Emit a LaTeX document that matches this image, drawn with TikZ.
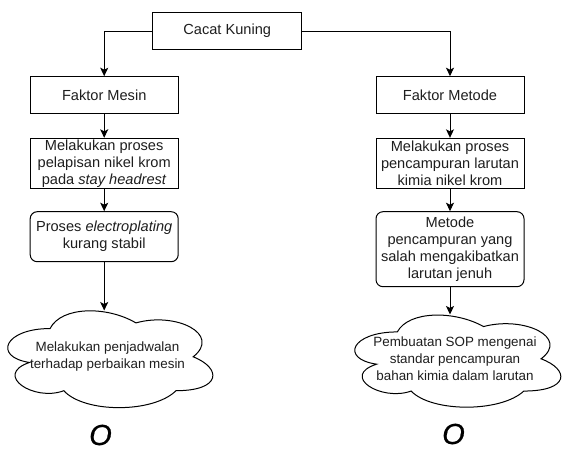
\documentclass[tikz,border=0pt]{standalone}
\usepackage{fontspec}
\setmainfont{Liberation Sans}
\newfontfamily\markfont[FakeBold=0.7]{Liberation Sans}
\usetikzlibrary{arrows.meta}

\definecolor{txt}{RGB}{30,30,30}

\tikzset{
  box/.style={draw=black, line width=1pt, minimum width=148pt, inner sep=0pt,
    align=center, font=\fontsize{14.6}{17}\selectfont, text=txt},
  rbox/.style={box, rounded corners=7pt},
  cloudlbl/.style={inner sep=0pt, align=center,
    font=\fontsize{13.4}{17}\selectfont, text=txt},
  cloudline/.style={draw=black, line width=1pt},
  arr/.style={line width=1pt, -{Stealth[length=8.5pt,width=8pt,inset=2pt]}},
  bigmark/.style={inner sep=0pt, font=\markfont\fontsize{29}{29}\selectfont\itshape}
}

% cloud outline in unit coordinates of its node box
\newcommand{\cloudpath}[1]{%
  \begin{scope}[shift={(#1.north west)}, x=\cloudw, y=-\cloudh]
    \draw[cloudline] (0.25,0.25) .. controls (0.05,0.25) and (0,0.5) .. (0.16,0.55)
      .. controls (0,0.66) and (0.18,0.9) .. (0.31,0.8)
      .. controls (0.4,1) and (0.7,1) .. (0.8,0.8)
      .. controls (1,0.8) and (1,0.6) .. (0.875,0.5)
      .. controls (1,0.3) and (0.8,0.1) .. (0.625,0.2)
      .. controls (0.5,0.05) and (0.3,0.05) .. (0.25,0.25) -- cycle;
  \end{scope}}
\newlength{\cloudw}
\newlength{\cloudh}

\begin{document}
\begin{tikzpicture}[x=1pt, y=-1pt]
  \useasboundingbox (0,0) rectangle (562,450);

  % boxes
  \node[box, minimum width=149pt, minimum height=36.6pt] (top) at (227.2,31) {Cacat Kuning};
  \node[box, minimum height=36.6pt] (fm) at (104.2,95) {Faktor Mesin};
  \node[box, minimum height=36.6pt] (fk) at (450,95) {Faktor Metode};
  \node[box, minimum height=50pt] (m1) at (104.2,163.3)
    {Melakukan proses\\pelapisan nikel krom\\pada \textit{stay headrest}};
  \node[box, minimum height=50pt] (k1) at (450,163.3)
    {Melakukan proses\\pencampuran larutan\\kimia nikel krom};
  \node[rbox, minimum height=50pt] (m2) at (104.2,236.7)
    {Proses \textit{electroplating}\\kurang stabil};
  \node[rbox, minimum height=75pt] (k2) at (450,249.2)
    {Metode\\pencampuran yang\\salah mengakibatkan\\larutan jenuh};

  % clouds
  \node[cloudlbl, minimum width=229pt, minimum height=113pt] (c1) at (107.5,357)
    {Melakukan penjadwalan\\terhadap perbaikan mesin};
  \setlength{\cloudw}{229pt}\setlength{\cloudh}{113pt}
  \cloudpath{c1}

  \node[cloudlbl, minimum width=230pt, minimum height=107.5pt] (c2) at (455,359)
    {Pembuatan SOP mengenai\\standar pencampuran\\bahan kimia dalam larutan};
  \setlength{\cloudw}{230pt}\setlength{\cloudh}{107.5pt}
  \cloudpath{c2}

  % connectors
  \draw[arr] (top.west) -| (fm.north);
  \draw[arr] (top.east) -| (fk.north);
  \draw[arr] (fm.south) -- (m1.north);
  \draw[arr] (fk.south) -- (k1.north);
  \draw[arr] (m1.south) -- (m2.north);
  \draw[arr] (k1.south) -- (k2.north);
  \coordinate (c1in) at (104.2,310.5);
  \coordinate (c2in) at (450,314.5);
  \draw[arr] (m2.south) -- (c1in);
  \draw[arr] (k2.south) -- (c2in);

  % marks below the clouds
  \node[bigmark] (o1) at (100.5,435) {O};
  \node[bigmark] (o2) at (453.5,434) {O};
\end{tikzpicture}
\end{document}
